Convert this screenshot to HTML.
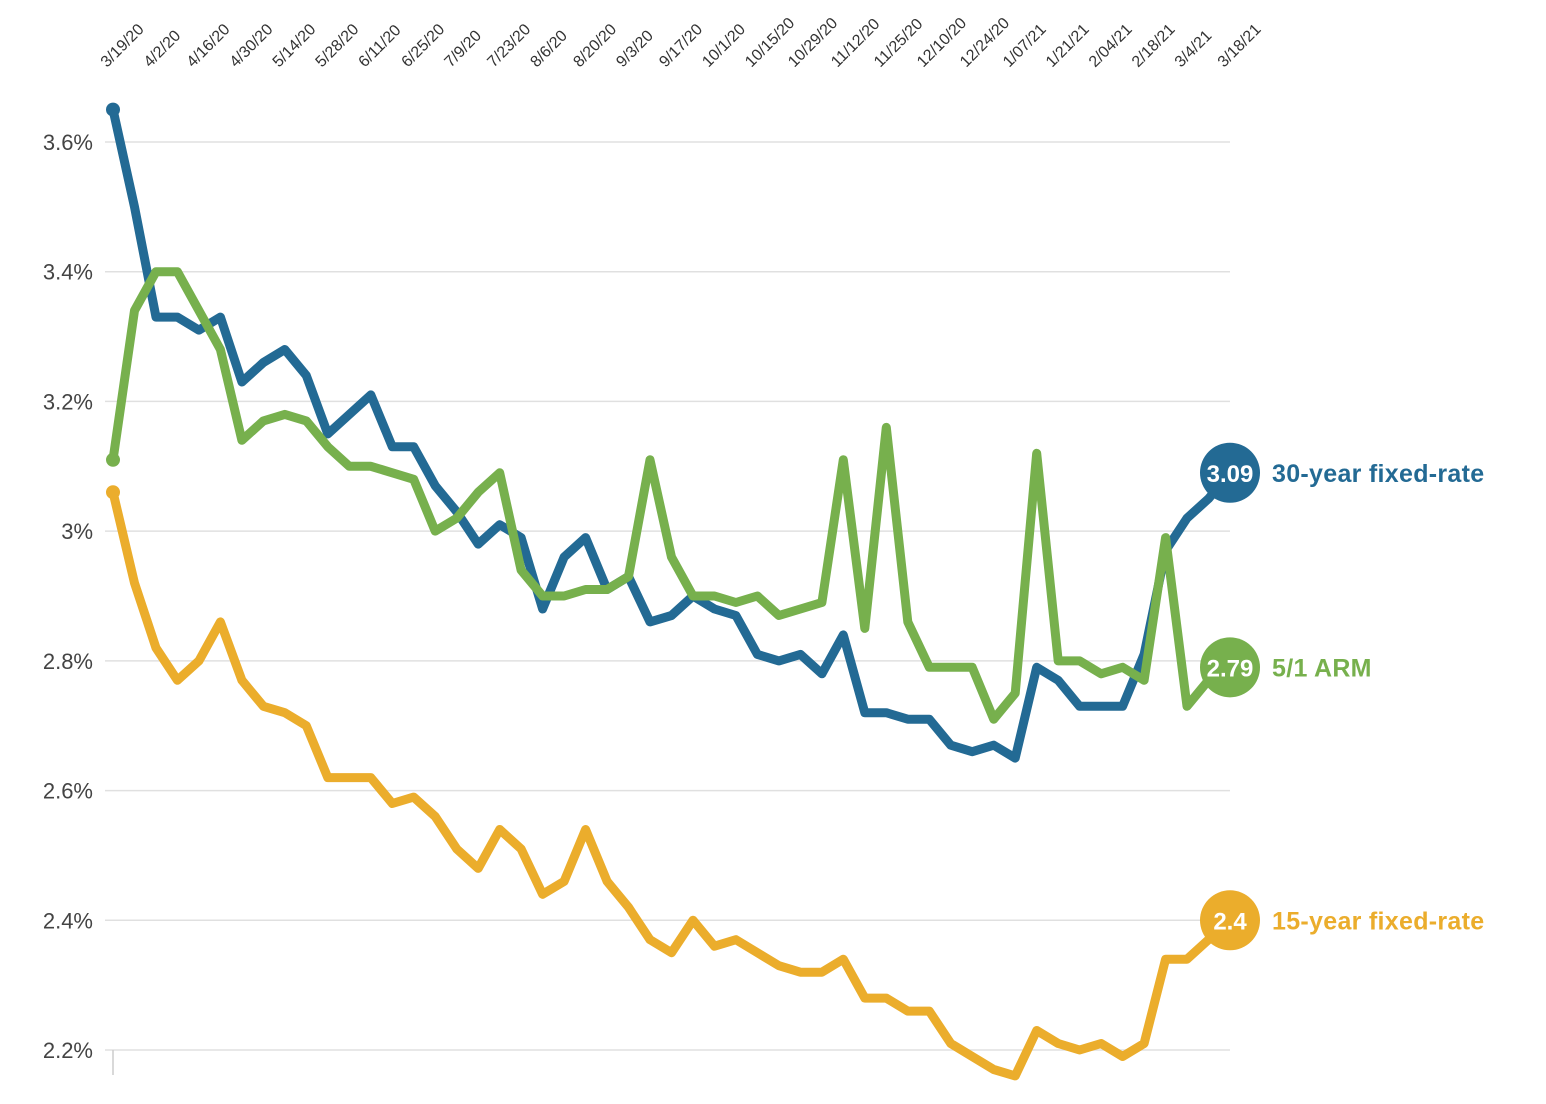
<!DOCTYPE html>
<html><head><meta charset="utf-8"><style>
html,body{margin:0;padding:0;background:#fff;}
svg{display:block;font-family:"Liberation Sans",sans-serif;}
</style></head><body>
<svg id="chart" width="1546" height="1104" viewBox="0 0 1546 1104"></svg>
<script>
const dates = ["3/19/20","3/26/20","4/2/20","4/9/20","4/16/20","4/23/20","4/30/20","5/7/20","5/14/20","5/21/20","5/28/20","6/4/20","6/11/20","6/18/20","6/25/20","7/2/20","7/9/20","7/16/20","7/23/20","7/30/20","8/6/20","8/13/20","8/20/20","8/27/20","9/3/20","9/10/20","9/17/20","9/24/20","10/1/20","10/8/20","10/15/20","10/22/20","10/29/20","11/5/20","11/12/20","11/19/20","11/25/20","12/3/20","12/10/20","12/17/20","12/24/20","12/31/20","1/07/21","1/14/21","1/21/21","1/28/21","2/04/21","2/11/21","2/18/21","2/25/21","3/4/21","3/11/21","3/18/21"];
const tickLabels = ["3/19/20","4/2/20","4/16/20","4/30/20","5/14/20","5/28/20","6/11/20","6/25/20","7/9/20","7/23/20","8/6/20","8/20/20","9/3/20","9/17/20","10/1/20","10/15/20","10/29/20","11/12/20","11/25/20","12/10/20","12/24/20","1/07/21","1/21/21","2/04/21","2/18/21","3/4/21","3/18/21"];
const yTicks = [2.2,2.4,2.6,2.8,3.0,3.2,3.4,3.6];
const yTickLabels = ["2.2%","2.4%","2.6%","2.8%","3%","3.2%","3.4%","3.6%"];
const rate30 = [3.65,3.50,3.33,3.33,3.31,3.33,3.23,3.26,3.28,3.24,3.15,3.18,3.21,3.13,3.13,3.07,3.03,2.98,3.01,2.99,2.88,2.96,2.99,2.91,2.93,2.86,2.87,2.90,2.88,2.87,2.81,2.80,2.81,2.78,2.84,2.72,2.72,2.71,2.71,2.67,2.66,2.67,2.65,2.79,2.77,2.73,2.73,2.73,2.81,2.97,3.02,3.05,3.09];
const rate15 = [3.06,2.92,2.82,2.77,2.80,2.86,2.77,2.73,2.72,2.70,2.62,2.62,2.62,2.58,2.59,2.56,2.51,2.48,2.54,2.51,2.44,2.46,2.54,2.46,2.42,2.37,2.35,2.40,2.36,2.37,2.35,2.33,2.32,2.32,2.34,2.28,2.28,2.26,2.26,2.21,2.19,2.17,2.16,2.23,2.21,2.20,2.21,2.19,2.21,2.34,2.34,2.37,2.40];
const rateArm = [3.11,3.34,3.40,3.40,3.34,3.28,3.14,3.17,3.18,3.17,3.13,3.10,3.10,3.09,3.08,3.00,3.02,3.06,3.09,2.94,2.90,2.90,2.91,2.91,2.93,3.11,2.96,2.90,2.90,2.89,2.90,2.87,2.88,2.89,3.11,2.85,3.16,2.86,2.79,2.79,2.79,2.71,2.75,3.12,2.80,2.80,2.78,2.79,2.77,2.99,2.73,2.77,2.79];
const seriesNames = ["30-year fixed-rate","5/1 ARM","15-year fixed-rate"];

const NS="http://www.w3.org/2000/svg";
const svg=document.getElementById('chart');
const X0=113,X1=1230,Y0=1050,Y1=142,V0=2.2,V1=3.6;
function x(i){return X0+(X1-X0)*i/(dates.length-1);}
function y(v){return Y0+(Y1-Y0)*(v-V0)/(V1-V0);}
function el(tag,attrs,parent){const e=document.createElementNS(NS,tag);for(const k in attrs)e.setAttribute(k,attrs[k]);(parent||svg).appendChild(e);return e;}

yTicks.forEach((t,k)=>{
  const g=el('line',{x1:105,x2:1230,y1:y(t),y2:y(t),stroke:'#e0e0e0','stroke-width':1.5});
  
  
  const tx=el('text',{x:93,y:y(t)+8,'text-anchor':'end','font-size':22,fill:'#444'});
  tx.textContent=yTickLabels[k];
  
  
});
const ax=el('line',{x1:113,x2:113,y1:1050,y2:1075,stroke:'#ccc','stroke-width':1.5});



tickLabels.forEach((lab)=>{
  const i=dates.indexOf(lab);
  const px=x(i)-6, py=68;
  const t=el('text',{x:px,y:py,'font-size':16,fill:'#333',transform:`rotate(-45 ${px} ${py})`});
  t.textContent=lab;
  
  
});

const series=[[rate30,'#236a94'],[rateArm,'#77b04d'],[rate15,'#ebad2c']];
series.forEach(([d,c],s)=>{
  const pts=d.map((v,i)=>x(i).toFixed(1)+','+y(v).toFixed(1)).join(' ');
  const pl=el('polyline',{points:pts,fill:'none',stroke:c,'stroke-width':9,'stroke-linejoin':'round','stroke-linecap':'round'});
  
  
  const sd=el('circle',{cx:x(0),cy:y(d[0]),r:7,fill:c});
  
  
  const n=d.length-1, lv=d[n];
  const ec=el('circle',{cx:x(n),cy:y(lv),r:30,fill:c});
  
  
  const vt=el('text',{x:x(n),y:y(lv)+9,'text-anchor':'middle','font-size':24,'font-weight':'bold',fill:'#fff'});
  vt.textContent=String(lv);
  
  
  const nt=el('text',{x:x(n)+42,y:y(lv)+9,'font-size':25,'font-weight':'bold',fill:c,'letter-spacing':'0.3'});
  nt.textContent=seriesNames[s];
  
  
});
</script>
</body></html>
